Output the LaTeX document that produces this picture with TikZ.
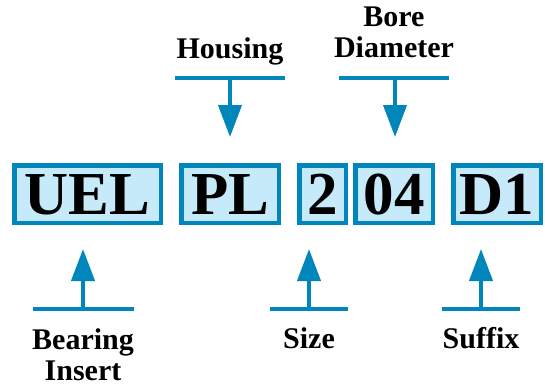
\documentclass[tikz,border=0pt]{standalone}
\usepackage{fontspec}
\setmainfont{Liberation Serif}
\usetikzlibrary{arrows.meta}
\definecolor{bord}{RGB}{0,134,186}
\definecolor{boxfill}{RGB}{199,234,250}
\begin{document}
\begin{tikzpicture}[x=1pt,y=-1pt,
  codebox/.style={draw=bord,fill=boxfill,line width=4.5pt,inner sep=0pt,
    minimum height=57.5pt,text height=41pt,text depth=0pt,
    font=\fontsize{61}{61}\selectfont\bfseries},
  lbl/.style={inner sep=0pt,align=center,font=\fontsize{30}{31}\selectfont\bfseries},
  bar/.style={draw=bord,line width=4.5pt},
  pointer/.style={draw=bord,line width=4pt,-{Triangle[width=23pt,length=32pt]}}]
\useasboundingbox (0,0) rectangle (545,388);
% code boxes
\node[codebox,minimum width=146.5pt] (uel) at (87.5,194) {UEL};
\node[codebox,minimum width=97.5pt] (pl) at (230,194) {PL};
\node[codebox,minimum width=46.5pt] (two) at (322.5,194) {2};
\node[codebox,minimum width=77.5pt] (bore) at (394,194) {04};
\node[codebox,minimum width=87.5pt] (done) at (497,194) {D1};
% labels
\node[lbl,anchor=base] (housing) at (230,58) {Housing};
\node[lbl,anchor=north] (borelbl) at (394,7) {Bore\\Diameter};
\node[lbl,anchor=north] (bearing) at (83,328) {Bearing\\Insert};
\node[lbl,anchor=base] (size) at (309,348) {Size};
\node[lbl,anchor=base] (suffix) at (481,348) {Suffix};
% bars
\coordinate (hL) at (175,78); \coordinate (hR) at (285,78); \coordinate (hM) at (230,78);
\coordinate (bL) at (339,78); \coordinate (bR) at (449,78); \coordinate (bM) at (395,78);
\coordinate (iL) at (33,309); \coordinate (iR) at (134,309); \coordinate (iM) at (83,309);
\coordinate (sL) at (270,309); \coordinate (sR) at (348,309); \coordinate (sM) at (309,309);
\coordinate (fL) at (442,309); \coordinate (fR) at (520,309); \coordinate (fM) at (481,309);
\draw[bar] (hL) -- (hR);
\draw[bar] (bL) -- (bR);
\draw[bar] (iL) -- (iR);
\draw[bar] (sL) -- (sR);
\draw[bar] (fL) -- (fR);
% arrow tips
\coordinate (hT) at (230,137);
\coordinate (bT) at (395,137);
\coordinate (iT) at (83,249);
\coordinate (sT) at (309,249);
\coordinate (fT) at (481,249);
\draw[pointer] (hM) -- (hT);
\draw[pointer] (bM) -- (bT);
\draw[pointer] (iM) -- (iT);
\draw[pointer] (sM) -- (sT);
\draw[pointer] (fM) -- (fT);
\end{tikzpicture}
\end{document}
